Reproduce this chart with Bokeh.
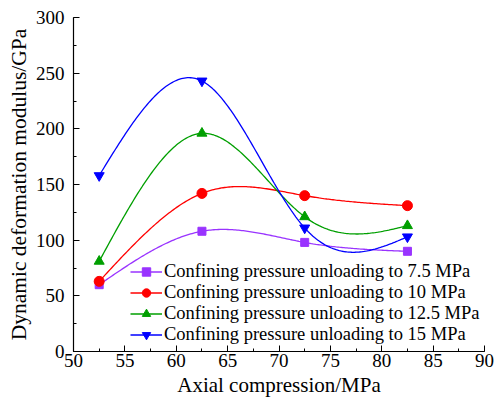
import numpy as np
from bokeh.plotting import figure
from bokeh.models import Range1d, SingleIntervalTicker, Legend, LegendItem
from bokeh.embed import file_html
from bokeh.resources import INLINE

axial = [52.5, 62.5, 72.5, 82.5]
s75 = [60, 108, 98, 90]
s10 = [63, 142, 140, 131]
s125 = [81, 196, 121, 113]
s15 = [158, 243, 111, 103]
names = ["Confining pressure unloading to 7.5 MPa",
         "Confining pressure unloading to 10 MPa",
         "Confining pressure unloading to 12.5 MPa",
         "Confining pressure unloading to 15 MPa"]
colors = ["#9933FF", "#FF0000", "#009F00", "#0000FF"]
markers = ["square", "circle", "triangle", "inverted_triangle"]
msizes = [8, 10, 10, 10]

FONT = "Liberation Serif"


def natural_spline(x, y, n=200):
    x = np.asarray(x, float)
    y = np.asarray(y, float)
    k = len(x)
    h = np.diff(x)
    A = np.zeros((k, k))
    b = np.zeros(k)
    A[0, 0] = 1
    A[-1, -1] = 1
    for i in range(1, k - 1):
        A[i, i - 1] = h[i - 1]
        A[i, i] = 2 * (h[i - 1] + h[i])
        A[i, i + 1] = h[i]
        b[i] = 6 * ((y[i + 1] - y[i]) / h[i] - (y[i] - y[i - 1]) / h[i - 1])
    M = np.linalg.solve(A, b)
    xs = np.linspace(x[0], x[-1], n)
    ys = np.empty_like(xs)
    for j, xv in enumerate(xs):
        i = min(np.searchsorted(x, xv, side="right") - 1, k - 2)
        i = max(i, 0)
        t1 = x[i + 1] - xv
        t0 = xv - x[i]
        ys[j] = (M[i] * t1 ** 3 / (6 * h[i]) + M[i + 1] * t0 ** 3 / (6 * h[i])
                 + (y[i] / h[i] - M[i] * h[i] / 6) * t1
                 + (y[i + 1] / h[i] - M[i + 1] * h[i] / 6) * t0)
    return xs, ys


p = figure(width=496, height=399, output_backend="svg", toolbar_location=None,
           x_range=Range1d(50, 90), y_range=Range1d(0, 300),
           min_border_left=73, min_border_right=12, min_border_top=17, min_border_bottom=47)
p.outline_line_color = None
p.xgrid.visible = False
p.ygrid.visible = False

p.xaxis.ticker = SingleIntervalTicker(interval=5, num_minor_ticks=2)
p.yaxis.ticker = SingleIntervalTicker(interval=50, num_minor_ticks=2)
p.axis.axis_line_color = "black"
p.axis.axis_line_width = 1.2
p.axis.major_tick_in = 6
p.axis.major_tick_out = 0
p.axis.minor_tick_in = 3
p.axis.minor_tick_out = 0
p.axis.major_tick_line_color = "black"
p.axis.minor_tick_line_color = "black"
p.axis.major_label_text_font = FONT
p.axis.major_label_text_font_size = "19px"
p.axis.major_label_text_color = "black"

p.xaxis.major_label_standoff = 2
p.yaxis.major_label_standoff = 9
p.axis.axis_label_text_font = FONT
p.axis.axis_label_text_font_style = "normal"
p.axis.axis_label_text_color = "black"
p.yaxis.axis_label = "Dynamic deformation modulus/GPa"
p.yaxis.axis_label_text_font_size = "21.5px"
p.yaxis.axis_label_standoff = 2
p.xaxis.axis_label = "Axial compression/MPa"
p.xaxis.axis_label_text_font_size = "21px"
p.xaxis.axis_label_standoff = 3

items = []
for ys, name, c, m, s in zip([s75, s10, s125, s15], names, colors, markers, msizes):
    xs, yy = natural_spline(axial, ys)
    r1 = p.line(xs, yy, line_color=c, line_width=1.3)
    r2 = p.scatter(axial, ys, marker=m, size=s, fill_color=c, line_color=c)
    items.append(LegendItem(label=name, renderers=[r1, r2]))

legend = Legend(items=items, location=(57, 6), padding=0, margin=0,
                border_line_alpha=0, background_fill_alpha=0,
                glyph_width=32, glyph_height=21, label_height=21, spacing=-1,
                label_standoff=2, label_text_font=FONT,
                label_text_font_size="18.5px", label_text_color="black")
p.add_layout(legend, "center")

open("out.html", "w").write(file_html(p, INLINE))
